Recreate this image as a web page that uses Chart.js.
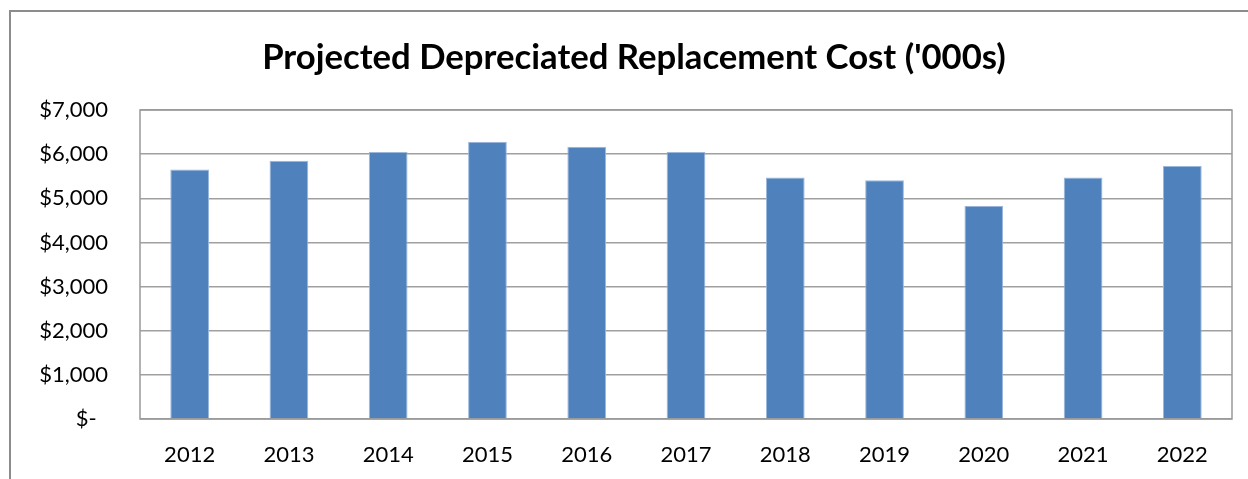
<!DOCTYPE html>
<html>
<head>
<meta charset="utf-8">
<script src="https://cdn.jsdelivr.net/npm/chart.js@4.4.0/dist/chart.umd.min.js"></script>
<style>
  html, body { margin: 0; padding: 0; background: #fff; }
  #wrap { position: relative; width: 1248px; height: 479px; overflow: hidden; }
  #frame {
    position: absolute; left: 9px; top: 10px; width: 1300px; height: 500px;
    border-left: 2px solid #8c8c8c; border-top: 2px solid #8c8c8c;
  }
  canvas { position: absolute; left: 0; top: 0; }
</style>
</head>
<body>
<div id="wrap">
  <div id="frame"></div>
  <canvas id="chart" width="1248" height="479"></canvas>
</div>
<script>
const years = ["2012", "2013", "2014", "2015", "2016", "2017", "2018", "2019", "2020", "2021", "2022"];
const costValues = [5650, 5850, 6050, 6280, 6170, 6050, 5470, 5410, 4830, 5470, 5730];
const yTicks = [0, 1000, 2000, 3000, 4000, 5000, 6000, 7000];

const FONT = "Lato, 'Open Sans', sans-serif";

function formatDollar(v) {
  if (v === 0) return "$-  ";
  return "$" + v.toLocaleString("en-US");
}

const plotBorder = {
  id: "plotBorder",
  afterDraw(chart) {
    const { ctx, chartArea } = chart;
    ctx.save();
    ctx.strokeStyle = "#999";
    ctx.lineWidth = 1.5;
    ctx.strokeRect(chartArea.left, chartArea.top, chartArea.right - chartArea.left, chartArea.bottom - chartArea.top);
    ctx.restore();
  }
};

new Chart(document.getElementById("chart"), {
  type: "bar",
  data: {
    labels: years,
    datasets: [{
      label: "Projected Depreciated Replacement Cost",
      data: costValues,
      backgroundColor: "#4f81bd",
      borderColor: "#9bb7dc",
      borderWidth: 1,
      categoryPercentage: 1,
      barPercentage: 0.39
    }]
  },
  options: {
    responsive: false,
    animation: false,
    layout: { padding: { left: 36, right: 16, top: 0, bottom: 0 } },
    plugins: {
      legend: { display: false },
      tooltip: { enabled: false },
      title: {
        display: true,
        text: "Projected Depreciated Replacement Cost ('000s)",
        color: "#000",
        font: { family: FONT, size: 34.7, weight: "bold", lineHeight: 1 },
        padding: { top: 40, bottom: 35.3 }
      }
    },
    scales: {
      x: {
        grid: { display: false },
        border: { display: false },
        ticks: {
          color: "#000",
          font: { family: FONT, size: 22 },
          padding: 15,
          maxRotation: 0
        },
        afterFit(scale) { scale.height = 60; }
      },
      y: {
        min: 0,
        max: 7000,
        afterBuildTicks(scale) { scale.ticks = yTicks.map(v => ({ value: v })); },
        grid: { color: "#a0a0a0", lineWidth: 1.5, drawTicks: false },
        border: { display: false },
        ticks: {
          color: "#000",
          font: { family: FONT, size: 22 },
          padding: 32,
          callback: (v) => formatDollar(v)
        },
        afterFit(scale) { scale.width = 104; }
      }
    }
  },
  plugins: [plotBorder]
});
</script>
</body>
</html>
